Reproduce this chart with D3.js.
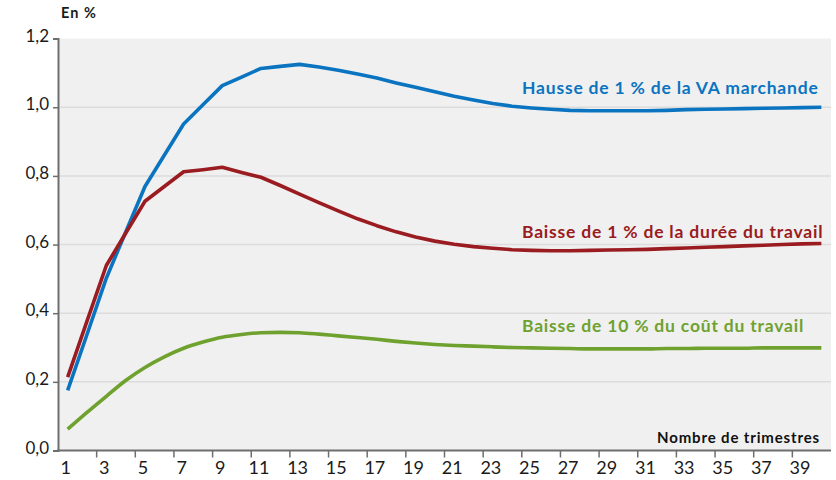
<!DOCTYPE html>
<html>
<head>
<meta charset="utf-8">
<script src="https://cdn.jsdelivr.net/npm/d3@7"></script>
<style>
body { margin: 0; background: #fff; }
text { font-family: Lato, "Open Sans", sans-serif; }
</style>
</head>
<body>
<div id="chart"></div>
<script>
// Quarters after the shock
const quarters = d3.range(1, 41);

// Hausse de 1 % de la VA marchande
const vaMarchande = [0.175, 0.338, 0.502, 0.636, 0.769, 0.860, 0.951, 1.007, 1.063, 1.088,
                     1.113, 1.119, 1.125, 1.117, 1.108, 1.097, 1.085, 1.071, 1.058, 1.045,
                     1.032, 1.021, 1.011, 1.003, 0.998, 0.994, 0.991, 0.990, 0.990, 0.990,
                     0.990, 0.991, 0.993, 0.994, 0.995, 0.996, 0.997, 0.998, 0.999, 1.000];

// Baisse de 1 % de la durée du travail
const dureeTravail = [0.214, 0.377, 0.539, 0.633, 0.726, 0.769, 0.812, 0.818, 0.825, 0.810,
                      0.796, 0.772, 0.747, 0.722, 0.698, 0.675, 0.655, 0.637, 0.622, 0.610,
                      0.601, 0.594, 0.589, 0.585, 0.583, 0.582, 0.582, 0.583, 0.584, 0.585,
                      0.586, 0.588, 0.590, 0.592, 0.594, 0.596, 0.598, 0.600, 0.602, 0.603];

// Baisse de 10 % du coût du travail
const coutTravail = [0.062, 0.111, 0.158, 0.204, 0.242, 0.273, 0.298, 0.316, 0.330, 0.338,
                     0.343, 0.344, 0.343, 0.339, 0.334, 0.329, 0.324, 0.318, 0.313, 0.309,
                     0.306, 0.304, 0.302, 0.300, 0.299, 0.298, 0.297, 0.296, 0.296, 0.296,
                     0.296, 0.297, 0.297, 0.298, 0.298, 0.298, 0.299, 0.299, 0.299, 0.299];

const seriesNames = ["Hausse de 1 % de la VA marchande",
                     "Baisse de 1 % de la durée du travail",
                     "Baisse de 10 % du coût du travail"];
const seriesValues = [vaMarchande, dureeTravail, coutTravail];
const seriesColors = ["#0b74c1", "#9a1b20", "#6fa12f"];
// the first two are drawn point to point, the last one is smooth
const seriesCurves = [d3.curveLinear, d3.curveLinear, d3.curveMonotoneX];
// where each label sits (value on y axis of the baseline)
const labelLevels = [1.038, 0.618, 0.344];

const yTicks = [0, 0.2, 0.4, 0.6, 0.8, 1.0, 1.2];
const xTickLabels = d3.range(1, 40, 2);

const width = 836, height = 480;
const plotLeft = 58, plotRight = 831, plotTop = 38.6, plotBottom = 450.5;

const svg = d3.select("#chart").append("svg")
    .attr("width", width)
    .attr("height", height);

const x = d3.scaleBand().domain(quarters).range([plotLeft, plotRight]);
const y = d3.scaleLinear().domain([0, 1.2]).range([plotBottom, plotTop]);
const cx = q => x(q) + x.bandwidth() / 2;

// plot background
svg.append("rect")
    .attr("x", plotLeft).attr("y", y(1.2))
    .attr("width", plotRight - plotLeft).attr("height", y(0) - y(1.2))
    .attr("fill", "#f0f0f0");

// gridlines
svg.append("g").selectAll("line")
    .data(yTicks.filter(d => d > 0 && d < 1.2))
    .enter().append("line")
    .attr("x1", plotLeft).attr("x2", plotRight)
    .attr("y1", d => y(d)).attr("y2", d => y(d))
    .attr("stroke", "#dcdcdc")
    .attr("stroke-width", 1.5);

// y axis
const yAxis = d3.axisLeft(y)
    .tickValues(yTicks)
    .tickSize(5)
    .tickPadding(5)
    .tickFormat(d => d3.format(".1f")(d).replace(".", ","));
const gy = svg.append("g")
    .attr("transform", `translate(${plotLeft},0)`)
    .call(yAxis);
gy.select(".domain").attr("stroke", "#6e6e6e").attr("stroke-width", 2);
gy.selectAll(".tick line").attr("stroke", "#6e6e6e").attr("stroke-width", 1.5)
    .attr("display", d => (d > 0 && d < 1.2) ? null : "none");
gy.selectAll(".tick text")
    .attr("font-size", 17)
    .attr("fill", "#1a1a1a")
    .attr("dy", "0.15em")
    .attr("x", -9);

// x axis: labels centred on quarters, tick marks between them
const xAxis = d3.axisBottom(x)
    .tickValues(xTickLabels)
    .tickSize(0)
    .tickPadding(11);
const gx = svg.append("g")
    .attr("transform", `translate(0,${plotBottom})`)
    .call(xAxis);
gx.select(".domain").remove();
gx.selectAll(".tick text")
    .attr("font-size", 18)
    .attr("fill", "#1a1a1a")
    .attr("dx", -2);

svg.append("g").selectAll("line")
    .data(xTickLabels.filter(d => d > 1))
    .enter().append("line")
    .attr("x1", d => x(d)).attr("x2", d => x(d))
    .attr("y1", plotBottom).attr("y2", plotBottom + 7)
    .attr("stroke", "#6e6e6e")
    .attr("stroke-width", 1.5);

svg.append("line")
    .attr("x1", plotLeft - 1).attr("x2", plotRight)
    .attr("y1", plotBottom).attr("y2", plotBottom)
    .attr("stroke", "#6e6e6e")
    .attr("stroke-width", 2);

// series
seriesValues.forEach((vals, k) => {
    const line = d3.line()
        .curve(seriesCurves[k])
        .x((d, i) => cx(quarters[i]))
        .y(d => y(d));
    svg.append("path")
        .datum(vals)
        .attr("d", line)
        .attr("fill", "none")
        .attr("stroke", seriesColors[k])
        .attr("stroke-width", 3.6)
        .attr("stroke-linejoin", "round");
});

// series labels
svg.append("g").selectAll("text")
    .data(seriesNames)
    .enter().append("text")
    .attr("x", 522)
    .attr("y", (d, i) => y(labelLevels[i]))
    .attr("fill", (d, i) => seriesColors[i])
    .attr("font-size", 17.5)
    .attr("font-weight", "bold")
    .attr("letter-spacing", 0.8)
    .text(d => d);

// titles
svg.append("text")
    .attr("x", 61).attr("y", 18)
    .attr("font-size", 14.5)
    .attr("font-weight", "bold")
    .attr("letter-spacing", 1)
    .attr("fill", "#1a1a1a")
    .text("En %");

svg.append("text")
    .attr("x", 820).attr("y", 443)
    .attr("text-anchor", "end")
    .attr("font-size", 15)
    .attr("font-weight", "bold")
    .attr("letter-spacing", 0.85)
    .attr("fill", "#111")
    .text("Nombre de trimestres");
</script>
</body>
</html>
